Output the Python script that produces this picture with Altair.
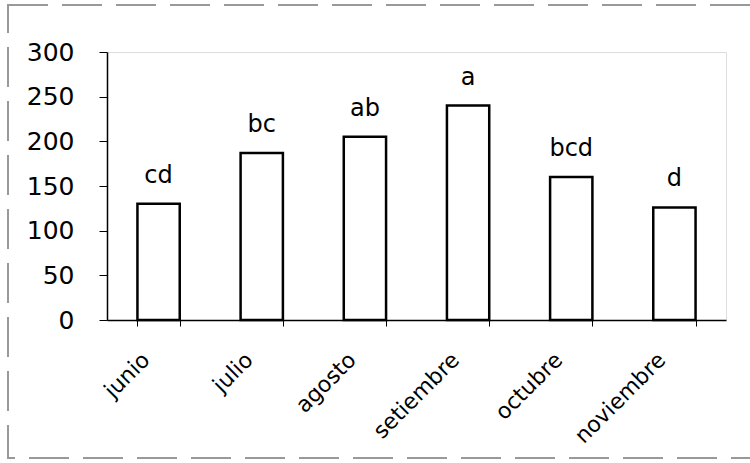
import altair as alt
import pandas as pd

meses = ["junio", "julio", "agosto", "setiembre", "octubre", "noviembre"]
valores = [130, 187, 205, 240, 160, 126]
letras = ["cd", "bc", "ab", "a", "bcd", "d"]

df = pd.DataFrame({"mes": meses, "valor": valores, "letra": letras})

FONT = "DejaVu Sans"

x_enc = alt.X(
    "mes:N",
    sort=meses,
    title=None,
    scale=alt.Scale(paddingInner=0.59, paddingOuter=0.295),
    axis=alt.Axis(
        labelAngle=-45,
        labelAlign="right",
        labelBaseline="middle",
        labelPadding=30,
        labelOffset=-13,
        labelFontSize=22,
        labelFont=FONT,
        labelColor="black",
        labelLimit=300,
        domainColor="black",
        domainWidth=1.5,
        tickBand="extent",
        tickSize=6,
        tickColor="black",
        grid=False,
    ),
)

y_enc = alt.Y(
    "valor:Q",
    title=None,
    scale=alt.Scale(domain=[0, 300], nice=False),
    axis=alt.Axis(
        values=[0, 50, 100, 150, 200, 250, 300],
        labelFontSize=25,
        labelFont=FONT,
        labelColor="black",
        labelPadding=25,
        tickSize=8,
        tickColor="black",
        domainColor="black",
        domainWidth=1.5,
        grid=False,
    ),
)

base = alt.Chart(df).encode(x=x_enc, y=y_enc)

bars = base.mark_bar(fill="white", stroke="black", strokeWidth=2.5)

text = base.mark_text(
    baseline="bottom", dy=-16, fontSize=24, font=FONT, color="black"
).encode(text="letra:N")

frame = alt.Chart(df).mark_rect(
    fill=None, stroke="#999999", strokeWidth=1.5, strokeDash=[40, 14]
).encode(
    x=alt.value(-99), x2=alt.value(650), y=alt.value(-47), y2=alt.value(406)
)

chart = alt.layer(frame, bars, text).properties(
    width=619,
    height=268,
    padding={"left": 107, "top": 52, "right": 24, "bottom": 143},
    autosize=alt.AutoSizeParams(type="none"),
).configure_view(stroke="transparent", strokeWidth=0).configure(background="white")

chart.save("out.html", embed_options={"renderer": "svg", "actions": False})
